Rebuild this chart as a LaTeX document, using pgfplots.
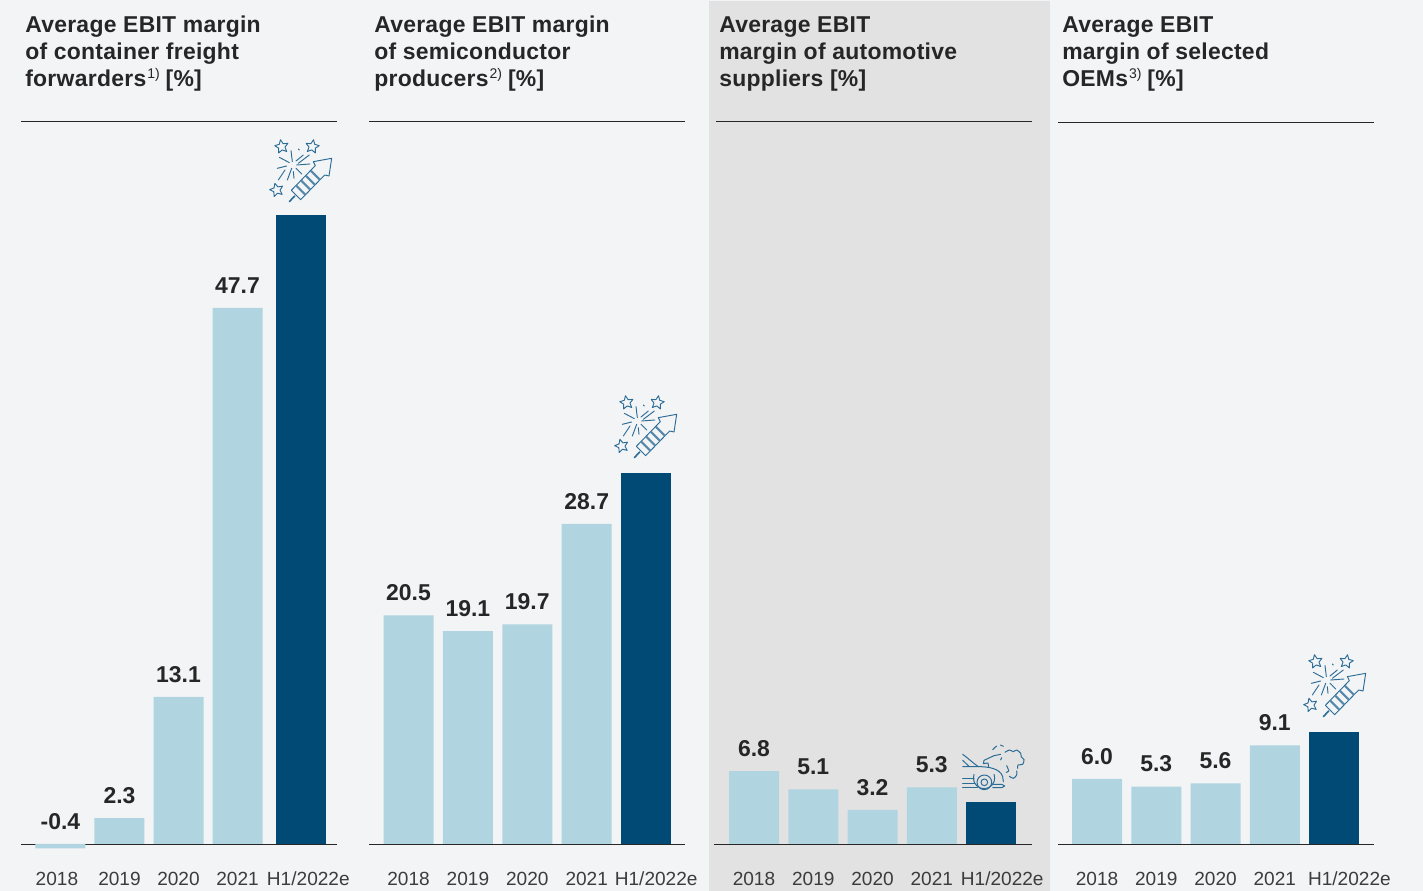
\documentclass[border=0pt]{standalone}
\usepackage{fontspec}
\setmainfont{Liberation Sans}
\newfontfamily\headfont[LetterSpace=1.2]{Liberation Sans}
\usepackage{pgfplots}
\usepackage{pgfplotstable}
\pgfplotsset{compat=1.18}
\usetikzlibrary{shapes.geometric}

\definecolor{pagebg}{HTML}{F3F4F6}
\definecolor{panelbg}{HTML}{E2E2E2}
\definecolor{lightbar}{HTML}{B0D5E0}
\definecolor{darkbar}{HTML}{004A75}
\definecolor{inktext}{HTML}{262626}
\definecolor{iconblue}{HTML}{2B6C96}

% x position, bar value, height the label sits on, label
\pgfplotstableread{
x v top lab
0 -0.4 0 -0.4
1 2.3 2.3 2.3
2 13.1 13.1 13.1
3 47.7 47.7 47.7
}\freight
\pgfplotstableread{
x v top lab
0 20.5 20.5 20.5
1 19.1 19.1 19.1
2 19.7 19.7 19.7
3 28.7 28.7 28.7
}\semis
\pgfplotstableread{
x v top lab
0 6.8 6.8 6.8
1 5.1 5.1 5.1
2 3.2 3.2 3.2
3 5.3 5.3 5.3
}\suppliers
\pgfplotstableread{
x v top lab
0 6.0 6.0 6.0
1 5.3 5.3 5.3
2 5.6 5.6 5.6
3 9.1 9.1 9.1
}\oems

\pgfplotsset{
  panel/.style={
    scale only axis, clip=false,
    hide y axis,
    axis x line*=bottom,
    x axis line style={-, draw=inktext, line width=0.6pt},
    ymin=0,
    major tick length=0pt,
    xticklabels={2018,2019,2020,2021,H1/2022e},
    xticklabel style={font=\fontsize{14.3}{16}\selectfont, text=inktext!90, anchor=base, yshift=-31.1pt},
    anchor=south west,
  },
  lightbars/.style={ybar, bar shift=0pt, bar width=37.5pt, fill=lightbar, draw=none},
  darkbars/.style={ybar, bar shift=0pt, bar width=37.5pt, fill=darkbar, draw=none},
  valuelabels/.style={
    draw=none, mark=none,
    nodes near coords, point meta=explicit symbolic,
    nodes near coords style={font=\fontsize{17.2}{18}\bfseries\selectfont, text=inktext, anchor=base, yshift=11pt, inner sep=0pt},
  },
}

% Firework rocket, drawn on a 1/3 px grid from the given origin
\newcommand\rocket[2]{%
  \begin{scope}[shift={(#1*0.75pt,{(891-#2)*0.75pt})},x=0.25pt,y=-0.25pt,
      draw=iconblue, line width=0.7pt, line cap=round, line join=round]
    \foreach \cx/\cy/\rot in {65/50/10,157/50/-10,50/180/15}
      \node[star, star points=5, star point ratio=2.1, draw=iconblue, line width=0.7pt,
            minimum size=10.5pt, inner sep=0pt, rotate=\rot] at (\cx,\cy) {};
    \draw (93,62)--(97,95) (115,57)--(118,60) (148,75)--(115,100) (130,75)--(108,93)
          (58,82)--(88,98) (52,115)--(80,108) (110,105)--(150,102) (108,115)--(125,132)
          (95,115)--(82,150) (75,120)--(55,150) (100,125)--(102,145);
    \draw (94,181)--(166,107)--(160,95)--(215,85)--(207,138)--(194,135)--(122,209)--cycle;
    \foreach \ax/\ay/\bx/\by in {108/166/136/194,123/151/151/179,137/137/165/165,152/122/180/150}
      \draw[line width=1.6pt,line cap=butt,draw=iconblue!80] (\ax,\ay)--(\bx,\by);
    \draw[line width=1.2pt] (88,215)--(104,198);
  \end{scope}}

% Broken-down car with open bonnet and a smoke cloud
\newcommand\brokencar[2]{%
  \begin{scope}[shift={(#1*0.75pt,{(891-#2)*0.75pt})},x=0.25pt,y=-0.25pt,
      draw=iconblue, line width=0.75pt, line cap=round, line join=round]
    \draw (38,58) .. controls (55,70) and (70,85) .. (85,95)
          .. controls (115,95) and (150,100) .. (158,125) -- (160,140);
    \draw (38,76)--(58,95)--(38,95) (58,95)--(85,95);
    \draw (116,96)--(114,84)--(100,86)--(102,76)--(132,62)--(152,58);
    \draw (130,148)--(155,148)--(164,153)--(155,158)--(128,158);
    \draw (103,142) circle[radius=22] (103,142) circle[radius=10];
    \draw (72,118) arc[start angle=200,end angle=-20,radius=32];
    \draw (38,130)--(72,130) (38,146)--(74,146) (38,157)--(82,157);
    \draw[dash pattern=on 4pt off 3pt] (128,44) .. controls (138,32) and (150,26) .. (160,34);
    \draw (152,75)--(155,68);
    \draw plot[smooth] coordinates {(165,52) (178,45) (190,50) (200,45) (212,55) (214,66) (222,74) (218,88) (204,90) (203,100)};
    \draw plot[smooth] coordinates {(170,92) (176,108) (168,112)};
    \draw plot[smooth] coordinates {(178,124) (190,130) (200,120) (200,108)};
  \end{scope}}

\newcommand\titleline[3]{\node[anchor=base west, inner sep=0pt, text=inktext,
  font=\headfont\fontsize{17.2}{20}\bfseries\selectfont] at (#1*0.75pt,{(891-#2)*0.75pt}) {#3};}
\newcommand\fnmark[1]{\kern0.8pt\raisebox{6.2pt}{\fontsize{10.5}{11}\normalfont #1}\kern4.4pt\relax}

\begin{document}
\begin{tikzpicture}[x=1pt,y=1pt]
  \useasboundingbox (0,0) rectangle (1067.25pt,668.25pt);
  \fill[pagebg] (0,0) rectangle (1067.25pt,668.25pt);
  \fill[panelbg] (709*0.75pt,0) rectangle (1050*0.75pt,667.5pt);

  % header rules
  \draw[inktext, line width=0.7pt] (21*0.75pt,{(891-121.6)*0.75pt}) -- (337*0.75pt,{(891-121.6)*0.75pt});
  \draw[inktext, line width=0.7pt] (369*0.75pt,{(891-121.6)*0.75pt}) -- (685*0.75pt,{(891-121.6)*0.75pt});
  \draw[inktext, line width=0.7pt] (716*0.75pt,{(891-121.6)*0.75pt}) -- (1032*0.75pt,{(891-121.6)*0.75pt});
  \draw[inktext, line width=0.7pt] (1058*0.75pt,{(891-122.4)*0.75pt}) -- (1374*0.75pt,{(891-122.4)*0.75pt});

  % panel headings
  \titleline{25}{33}{Average EBIT margin}
  \titleline{25}{60}{of container freight}
  \titleline{25}{87}{forwarders\fnmark{1)}[\%]}
  \titleline{374}{33}{Average EBIT margin}
  \titleline{374}{60}{of semiconductor}
  \titleline{374}{87}{producers\fnmark{2)}[\%]}
  \titleline{719}{33}{Average EBIT}
  \titleline{719}{60}{margin of automotive}
  \titleline{719}{87}{suppliers [\%]}
  \titleline{1062}{33}{Average EBIT}
  \titleline{1062}{60}{margin of selected}
  \titleline{1062}{87}{OEMs\fnmark{3)}[\%]}

  % container freight forwarders
  \begin{axis}[panel, at={(21*0.75pt,35.25pt)}, width=237pt, height=480pt,
      xmin=-0.669, xmax=4.686, ymax=56.94,
      xtick={-0.06,1,2,3,4.2}]
    \addplot[lightbars] table[x=x,y=v] {\freight};
    \addplot[darkbars] coordinates {(4.07,56.0)};
    \addplot[valuelabels] table[x=x,y=top,meta=lab] {\freight};
  \end{axis}

  % semiconductor producers
  \begin{axis}[panel, at={(369*0.75pt,35.25pt)}, width=237pt, height=480pt,
      xmin=-0.665, xmax=4.655, ymax=57.4,
      xtick={0,1,2,3,4.17}]
    \addplot[lightbars] table[x=x,y=v] {\semis};
    \addplot[darkbars] coordinates {(4,33.3)};
    \addplot[valuelabels] table[x=x,y=top,meta=lab] {\semis};
  \end{axis}

  % automotive suppliers
  \begin{axis}[panel, at={(714*0.75pt,35.25pt)}, width=238.5pt, height=480pt,
      xmin=-0.675, xmax=4.692, ymax=59.8,
      xtick={0,1,2,3,4.19}]
    \addplot[lightbars] table[x=x,y=v] {\suppliers};
    \addplot[darkbars] coordinates {(4,3.9)};
    \addplot[valuelabels] table[x=x,y=top,meta=lab] {\suppliers};
  \end{axis}

  % selected OEMs
  \begin{axis}[panel, at={(1058*0.75pt,35.25pt)}, width=237pt, height=480pt,
      xmin=-0.658, xmax=4.675, ymax=59.0,
      xtick={0,1,2,3,4.26}]
    \addplot[lightbars] table[x=x,y=v] {\oems};
    \addplot[darkbars] coordinates {(4,10.3)};
    \addplot[valuelabels] table[x=x,y=top,meta=lab] {\oems};
  \end{axis}

  \rocket{260}{130}
  \rocket{605}{386}
  \rocket{1294}{645}
  \brokencar{950}{735}
\end{tikzpicture}
\end{document}
